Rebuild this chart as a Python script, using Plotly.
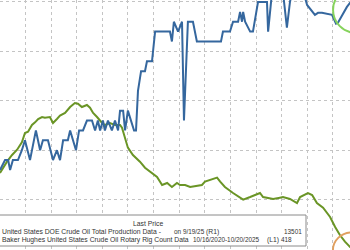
import plotly.graph_objects as go

# --- data ---
prod_dates = [
    "2022-04-02", "2022-04-20", "2022-05-01", "2022-05-08", "2022-05-18", "2022-06-05",
    "2022-06-19", "2022-06-30", "2022-07-18", "2022-08-08", "2022-08-23", "2022-09-02",
    "2022-09-20", "2022-10-08", "2022-10-22", "2022-11-02", "2022-11-13", "2022-11-30",
    "2022-12-08", "2022-12-18", "2022-12-29", "2023-01-09", "2023-01-23", "2023-02-06",
    "2023-02-24", "2023-03-07", "2023-03-17", "2023-03-25", "2023-04-04", "2023-04-11",
    "2023-04-22", "2023-05-06", "2023-05-17", "2023-05-28", "2023-06-04", "2023-06-15",
    "2023-06-22", "2023-07-02", "2023-07-13", "2023-07-24", "2023-07-31", "2023-08-07",
    "2023-08-18", "2023-09-01", "2023-09-08", "2023-09-26", "2023-10-07", "2023-11-29",
    "2023-12-06", "2023-12-13", "2023-12-28", "2024-01-11", "2024-01-18", "2024-02-01",
    "2024-02-19", "2024-03-04", "2024-05-29", "2024-06-05", "2024-06-30", "2024-07-11",
    "2024-07-29", "2024-08-05", "2024-08-12", "2024-08-16", "2024-08-23", "2024-09-10",
    "2024-09-20", "2024-10-08", "2024-10-26", "2024-11-09", "2024-11-13", "2024-11-27",
    "2025-01-05", "2025-01-19", "2025-01-30", "2025-02-06", "2025-03-25", "2025-04-01",
    "2025-04-29", "2025-05-10", "2025-05-24", "2025-06-29", "2025-07-13", "2025-07-20",
    "2025-08-21", "2025-09-01", "2025-09-19",
]
prod_values = [
    11800, 11900, 11900, 11800, 11900, 11900,
    12000, 12100, 11900, 12200, 12000, 12100,
    12100, 11900, 12000, 11900, 12100, 12100,
    12200, 12100, 12000, 12200, 12200, 12300,
    12300, 12200, 12300, 12200, 12300, 12200,
    12300, 12200, 12300, 12200, 12400, 12400,
    12200, 12400, 12300, 12200, 12200, 12600,
    12800, 12800, 12900, 12900, 13200, 13200,
    13100, 13300, 13200, 13300, 12300, 13300,
    13300, 13100, 13100, 13200, 13200, 13300,
    13300, 13400, 13300, 13400, 13300, 13200,
    13200, 13500, 13500, 13500, 13200, 13600,
    13600, 13240, 13500, 13600, 13540, 13470,
    13370, 13390, 13390, 13370, 13280, 13290,
    13450, 13490, 13501,
]

rig_dates = [
    "2022-04-02", "2022-04-13", "2022-04-27", "2022-05-15", "2022-06-02", "2022-06-19",
    "2022-06-30", "2022-07-11", "2022-07-25", "2022-08-05", "2022-08-16", "2022-08-30",
    "2022-09-09", "2022-09-27", "2022-10-08", "2022-10-22", "2022-11-02", "2022-11-20",
    "2022-12-08", "2022-12-25", "2023-01-05", "2023-01-19", "2023-02-06", "2023-02-17",
    "2023-02-28", "2023-03-14", "2023-04-01", "2023-04-11", "2023-04-29", "2023-05-17",
    "2023-06-04", "2023-06-11", "2023-06-22", "2023-07-02", "2023-07-20", "2023-08-14",
    "2023-09-01", "2023-09-19", "2023-10-14", "2023-11-01", "2023-11-19", "2023-12-06",
    "2023-12-24", "2024-01-04", "2024-01-22", "2024-02-09", "2024-03-05", "2024-03-22",
    "2024-04-02", "2024-04-20", "2024-05-15", "2024-05-26", "2024-06-12", "2024-07-11",
    "2024-08-05", "2024-08-16", "2024-09-10", "2024-10-15", "2024-10-26", "2024-12-01",
    "2024-12-25", "2025-01-05", "2025-01-30", "2025-02-24", "2025-03-07", "2025-04-04",
    "2025-04-19", "2025-05-06", "2025-05-28", "2025-06-22", "2025-07-10", "2025-07-27",
    "2025-08-14", "2025-09-01", "2025-09-19", "2025-10-17",
]
rig_values = [
    522, 530, 539, 549, 557, 568,
    582, 584, 594, 598, 603, 606,
    605, 606, 597, 603, 608, 612,
    621, 627, 626, 621, 624, 620,
    612, 606, 597, 594, 597, 594,
    594, 590, 576, 560, 549, 539,
    530, 524, 516, 504, 507, 501,
    507, 504, 504, 501, 503, 504,
    509, 512, 515, 509, 501, 492,
    485, 482, 486, 492, 486, 483,
    485, 486, 483, 477, 486, 492,
    489, 477, 470, 456, 441, 429,
    419, 411, 413, 418,
]

legend_title = "Last Price"
prod_label = "United States DOE Crude Oil Total Production Data -"
prod_date_label = "on 9/19/25"
rig_label = "Baker Hughes United States Crude Oil Rotary Rig Count Data"
rig_date_label = "10/16/2020-10/20/2025"
prod_axis_tag = "(R1)"
rig_axis_tag = "(L1)"

BLUE = "#35679e"
GREEN = "#6a9526"
GRID = "#c4c4c4"
FONT = "Liberation Sans, Arial, sans-serif"
FS_TEXT = 6.8
FS_NUM = 6.4

fig = go.Figure()
fig.add_trace(go.Scatter(x=rig_dates, y=rig_values, mode="lines", yaxis="y",
                         line=dict(color=GREEN, width=2), showlegend=False))
fig.add_trace(go.Scatter(x=prod_dates, y=prod_values, mode="lines", yaxis="y2",
                         line=dict(color=BLUE, width=2), showlegend=False))

fig.update_layout(
    width=350, height=250,
    margin=dict(l=0, r=0, t=0, b=0),
    paper_bgcolor="white", plot_bgcolor="white",
    showlegend=False,
    xaxis=dict(range=["2022-04-02", "2025-09-01"], type="date",
               showgrid=True, gridcolor=GRID, griddash="dot", gridwidth=1,
               dtick="M3", tick0="2022-01-01", showticklabels=False,
               ticks="", zeroline=False, showline=False),
    yaxis=dict(range=[406.5, 781.5], showgrid=False, showticklabels=False,
               ticks="", zeroline=False, showline=False),
    yaxis2=dict(range=[10990, 13520], overlaying="y", side="right",
                showgrid=True, gridcolor=GRID, griddash="dot", gridwidth=1,
                dtick=500, tick0=11000, showticklabels=False, ticks="",
                zeroline=False, showline=False),
)

# highlight circles anchored at the last points of each series
fig.add_shape(type="circle", xref="x", yref="y2",
              xsizemode="pixel", ysizemode="pixel",
              xanchor=prod_dates[-1], yanchor=prod_values[-1],
              x0=-22, x1=24, y0=-31, y1=15,
              line=dict(color="#86d35c", width=2), layer="above")
fig.add_shape(type="circle", xref="x", yref="y",
              xsizemode="pixel", ysizemode="pixel",
              xanchor=rig_dates[-1], yanchor=rig_values[-1],
              x0=-30, x1=8, y0=-26, y1=10,
              line=dict(color="#e0a060", width=2), layer="above")

# legend box
fig.add_shape(type="rect", xref="paper", yref="paper",
              x0=-0.01, x1=306 / 350, y0=1 - 246 / 250, y1=1 - 215 / 250,
              fillcolor="white", line=dict(color="#8a8a8a", width=1), layer="above")

def txt(text, x, y, anchor="left", size=FS_TEXT):
    fig.add_annotation(text=text, xref="paper", yref="paper",
                       x=x / 350, y=1 - y / 250, xanchor=anchor, yanchor="middle",
                       showarrow=False, borderpad=0,
                       font=dict(family=FONT, size=size, color="#333333"))

txt(legend_title, 148, 223.5, "center")
txt(prod_label, 1, 231.5)
txt(prod_date_label, 173, 231.5, size=FS_NUM)
txt(prod_axis_tag, 205, 231.5)
txt(f"{prod_values[-1]}", 303, 231.5, "right", size=FS_NUM)
txt(rig_label, 1, 239.5)
txt(rig_date_label, 261, 239.5, "right", size=FS_NUM)
txt(rig_axis_tag, 266, 239.5)
txt(f"{rig_values[-1]}", 280, 239.5, size=FS_NUM)

fig.write_html("out.html")
